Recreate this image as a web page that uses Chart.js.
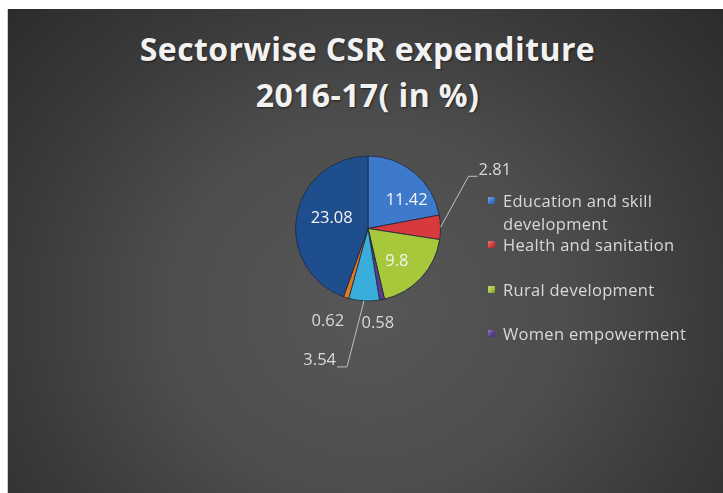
<!DOCTYPE html>
<html>
<head>
<meta charset="utf-8">
<script src="https://cdn.jsdelivr.net/npm/chart.js@4/dist/chart.umd.min.js"></script>
<style>
  html, body { margin: 0; padding: 0; background: #ffffff; width: 723px; height: 493px; overflow: hidden; }
  #panel {
    position: absolute; left: 8px; top: 9px; width: 715px; height: 484px;
    background: radial-gradient(ellipse 70% 95% at 50% 62%, #575757 0%, #4d4d4d 40%, #3a3a3a 70%, #2a2a2a 100%);
    box-shadow: -1px 0 0 #cfcfcf;
  }
  #title {
    position: absolute; left: 0; top: 26px; width: 735px; text-align: center;
    font-family: "Open Sans", sans-serif; font-weight: bold; font-size: 32px; line-height: 46px;
    color: #f2f2f2; text-shadow: 1px 1px 2px rgba(0,0,0,0.5); letter-spacing: 0.4px;
  }
  #c { position: absolute; left: 0; top: 0; }
  #legend { position: absolute; left: 488px; top: 0; font-family: "Open Sans", sans-serif; font-size: 16.5px; letter-spacing: 0.3px; color: #d9d9d9; }
  .item { position: absolute; left: 0; white-space: nowrap; line-height: 23px; }
  .mk { position: absolute; left: 0; width: 7px; height: 7px; border-radius: 1px; }
  .tx { position: absolute; left: 15px; }
</style>
</head>
<body>
<div id="panel"></div>
<div id="title">Sectorwise CSR expenditure<br>2016-17( in %)</div>
<canvas id="c" width="723" height="493"></canvas>
<div id="legend"></div>
<script>
// ---- data ----
const categories = [
  "Education and skill development",
  "Health and sanitation",
  "Rural development",
  "Women empowerment",
  "Sector 5",
  "Sector 6",
  "Sector 7"
];
const values = [11.42, 2.81, 9.8, 0.58, 3.54, 0.62, 23.08];
const legendCount = 4; // only the first four sectors appear in the legend

// ---- styles ----
const colors = ["#3d7acb", "#d63a3c", "#a8c83c", "#5a3f93", "#3aaedb", "#e07b22", "#1f4e8e"];
const legendLines = [["Education and skill", "development"], ["Health and sanitation"], ["Rural development"], ["Women empowerment"]];
const legendRowsY = [[200, 223], [244], [289], [333]];

function shade(hex, f) {
  const n = parseInt(hex.slice(1), 16);
  let r = (n >> 16) & 255, g = (n >> 8) & 255, b = n & 255;
  const m = v => Math.max(0, Math.min(255, Math.round(f < 0 ? v * (1 + f) : v + (255 - v) * f)));
  return `rgb(${m(r)},${m(g)},${m(b)})`;
}

// legend (HTML)
const lg = document.getElementById('legend');
for (let i = 0; i < legendCount; i++) {
  const rows = legendRowsY[i];
  legendLines[i].forEach((t, k) => {
    const d = document.createElement('div');
    d.className = 'item';
    d.style.top = (rows[k] - 11.5) + 'px';
    if (k === 0) {
      const m = document.createElement('span');
      m.className = 'mk';
      m.style.top = '8px';
      m.style.background = `linear-gradient(135deg, ${shade(colors[i], 0.35)}, ${colors[i]} 55%, ${shade(colors[i], -0.3)})`;
      d.appendChild(m);
    }
    const s = document.createElement('span');
    s.className = 'tx';
    s.textContent = t;
    d.appendChild(s);
    lg.appendChild(d);
  });
}

// label placement (style): inside labels at a radius factor/angle shift, outside ones with leader lines
const labelLayout = [
  { mode: 'in', rf: 0.66, da: 0.25 },
  { mode: 'leader', side: 'right' },
  { mode: 'in', rf: 0.6, da: 0.1 },
  { mode: 'out', rf: 1.31, da: 0.09 },
  { mode: 'leader', side: 'left' },
  { mode: 'out', rf: 1.4, da: 0.1 },
  { mode: 'in', rf: 0.52, da: 0.1 }
];

const labelPlugin = {
  id: 'sliceLabels',
  afterDatasetsDraw(chart) {
    const ctx = chart.ctx;
    const meta = chart.getDatasetMeta(0);
    ctx.save();
    ctx.font = '16.5px "Open Sans", sans-serif';
    ctx.textBaseline = 'middle';
    meta.data.forEach((arc, i) => {
      const p = arc.getProps(['x', 'y', 'startAngle', 'endAngle', 'outerRadius'], true);
      const mid = (p.startAngle + p.endAngle) / 2;
      const L = labelLayout[i];
      const txt = String(values[i]);
      if (L.mode === 'in' || L.mode === 'out') {
        const a = mid + L.da;
        const x = p.x + Math.cos(a) * p.outerRadius * L.rf;
        const y = p.y + Math.sin(a) * p.outerRadius * L.rf;
        ctx.fillStyle = L.mode === 'in' ? '#f4f4f4' : '#d9d9d9';
        ctx.textAlign = 'center';
        ctx.fillText(txt, x, y);
      } else {
        const sx = p.x + Math.cos(mid) * p.outerRadius;
        const sy = p.y + Math.sin(mid) * p.outerRadius;
        ctx.strokeStyle = '#bfbfbf';
        ctx.lineWidth = 1;
        ctx.fillStyle = '#d9d9d9';
        ctx.beginPath();
        if (L.side === 'right') {
          const ex = sx + 28, ey = sy - 51;
          ctx.moveTo(sx, sy); ctx.lineTo(ex, ey); ctx.lineTo(ex + 9, ey);
          ctx.stroke();
          ctx.textAlign = 'left';
          ctx.fillText(txt, ex + 10, ey - 6);
        } else {
          const ex = sx - 17, ey = sy + 66;
          ctx.moveTo(sx, sy); ctx.lineTo(ex, ey); ctx.lineTo(ex - 10, ey);
          ctx.stroke();
          ctx.textAlign = 'right';
          ctx.fillText(txt, ex - 11, ey - 7);
        }
      }
    });
    ctx.restore();
  }
};

function sliceFill(context) {
  const chart = context.chart;
  const i = context.dataIndex;
  const arc = chart.getDatasetMeta(0).data[i];
  if (!arc || !arc.outerRadius) return colors[i];
  const g = chart.ctx.createRadialGradient(arc.x, arc.y, 0, arc.x, arc.y, arc.outerRadius);
  g.addColorStop(0, shade(colors[i], 0.12));
  g.addColorStop(0.75, colors[i]);
  g.addColorStop(0.93, shade(colors[i], -0.12));
  g.addColorStop(1, shade(colors[i], -0.35));
  return g;
}

new Chart(document.getElementById('c'), {
  type: 'pie',
  data: {
    labels: categories,
    datasets: [{
      data: values,
      backgroundColor: sliceFill,
      borderColor: 'rgba(35,40,60,0.85)',
      borderWidth: 1
    }]
  },
  options: {
    responsive: false,
    animation: false,
    layout: { padding: { top: 155, bottom: 191, left: 295, right: 282 } },
    plugins: {
      legend: { display: false },
      title: { display: false },
      tooltip: { enabled: false }
    }
  },
  plugins: [labelPlugin]
});
</script>
</body>
</html>
